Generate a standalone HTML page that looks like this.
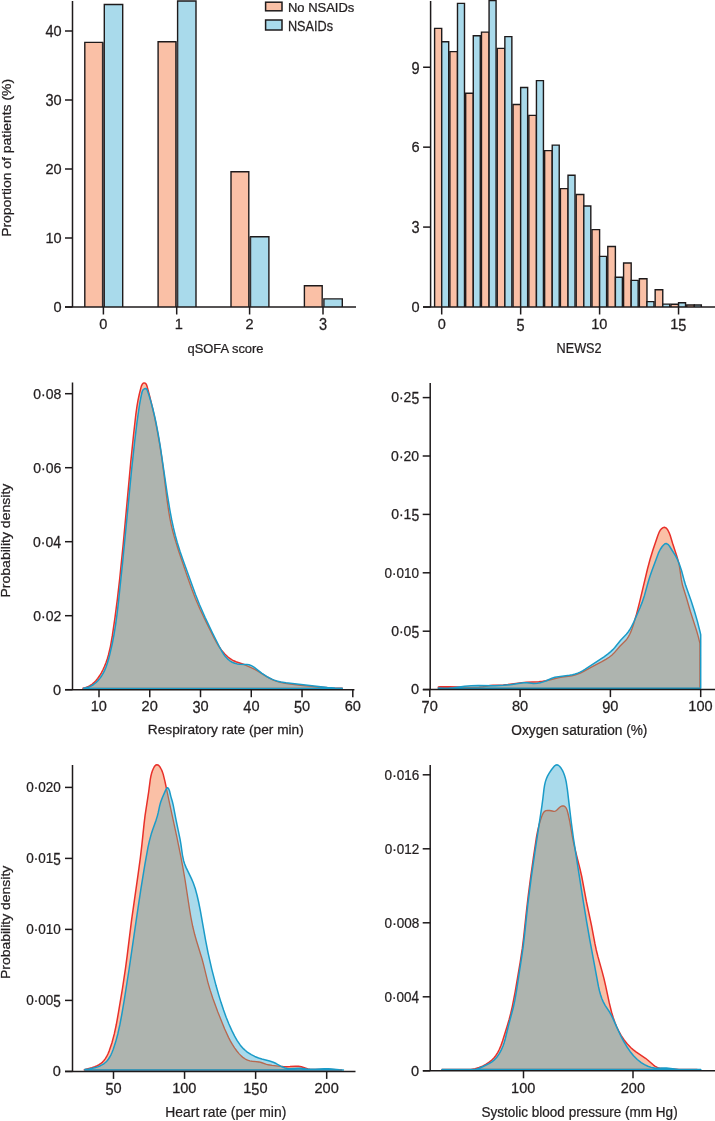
<!DOCTYPE html>
<html><head><meta charset="utf-8"><style>
html,body{margin:0;padding:0;background:#fff;}
svg{display:block;will-change:transform;}
text{font-family:"Liberation Sans",sans-serif;stroke:#231F20;stroke-width:0.25px;}
</style></head><body>
<svg width="715" height="1121" viewBox="0 0 715 1121">
<rect width="715" height="1121" fill="#fff"/>
<path d="M84.8,307V42.4H102.6V307" fill="#FAC0A6" stroke="#1E1A1B" stroke-width="1.4"/>
<path d="M104.3,307V4.5H122.7V307" fill="#A9DAEB" stroke="#1E1A1B" stroke-width="1.4"/>
<rect x="102.6" y="42.4" width="1.7" height="264.6" fill="#4E4849"/>
<path d="M158.1,307V41.7H175.9V307" fill="#FAC0A6" stroke="#1E1A1B" stroke-width="1.4"/>
<path d="M177.6,307V1H196V307" fill="#A9DAEB" stroke="#1E1A1B" stroke-width="1.4"/>
<rect x="175.9" y="41.7" width="1.7" height="265.3" fill="#4E4849"/>
<path d="M231,307V171.7H248.8V307" fill="#FAC0A6" stroke="#1E1A1B" stroke-width="1.4"/>
<path d="M250.5,307V236.7H268.9V307" fill="#A9DAEB" stroke="#1E1A1B" stroke-width="1.4"/>
<rect x="248.8" y="236.7" width="1.7" height="70.3" fill="#4E4849"/>
<path d="M304.4,307V285.7H322.2V307" fill="#FAC0A6" stroke="#1E1A1B" stroke-width="1.4"/>
<path d="M323.9,307V298.9H342.3V307" fill="#A9DAEB" stroke="#1E1A1B" stroke-width="1.4"/>
<rect x="322.2" y="298.9" width="1.7" height="8.1" fill="#4E4849"/>
<line x1="72.5" y1="1" x2="72.5" y2="307" stroke="#1E1A1B" stroke-width="1.5"/>
<line x1="65" y1="307" x2="356" y2="307" stroke="#1E1A1B" stroke-width="1.5"/>
<line x1="65" y1="307" x2="72.5" y2="307" stroke="#1E1A1B" stroke-width="1.5"/>
<line x1="65" y1="238" x2="72.5" y2="238" stroke="#1E1A1B" stroke-width="1.5"/>
<line x1="65" y1="169" x2="72.5" y2="169" stroke="#1E1A1B" stroke-width="1.5"/>
<line x1="65" y1="100" x2="72.5" y2="100" stroke="#1E1A1B" stroke-width="1.5"/>
<line x1="65" y1="31" x2="72.5" y2="31" stroke="#1E1A1B" stroke-width="1.5"/>
<line x1="103.4" y1="307" x2="103.4" y2="314.5" stroke="#1E1A1B" stroke-width="1.5"/>
<line x1="176.7" y1="307" x2="176.7" y2="314.5" stroke="#1E1A1B" stroke-width="1.5"/>
<line x1="249.6" y1="307" x2="249.6" y2="314.5" stroke="#1E1A1B" stroke-width="1.5"/>
<line x1="323" y1="307" x2="323" y2="314.5" stroke="#1E1A1B" stroke-width="1.5"/>
<text transform="translate(53.47,311.88) scale(1.0400,1)" font-size="14.000" fill="#231F20">0</text>
<text transform="translate(45.38,242.88) scale(1.0400,1)" font-size="14.000" fill="#231F20">10</text>
<text transform="translate(45.38,173.88) scale(1.0400,1)" font-size="14.000" fill="#231F20">20</text>
<text transform="translate(45.38,95.12) scale(1.0400,1.1536)" y="9.77" font-size="14.000" fill="#231F20">3</text>
<text transform="translate(53.48,104.88) scale(1.0400,1)" font-size="14.000" fill="#231F20">0</text>
<text transform="translate(45.38,26.12) scale(1.0400,1.1536)" y="9.77" font-size="14.000" fill="#231F20">4</text>
<text transform="translate(53.48,35.88) scale(1.0400,1)" font-size="14.000" fill="#231F20">0</text>
<text transform="translate(99.34,328.76) scale(1.0400,1)" font-size="14.000" fill="#231F20">0</text>
<text transform="translate(174.66,328.62) scale(1.0400,1)" font-size="14.000" fill="#231F20">1</text>
<text transform="translate(245.56,328.76) scale(1.0400,1)" font-size="14.000" fill="#231F20">2</text>
<text transform="translate(319,319) scale(1.0400,1.1536)" y="9.76" font-size="14.000" fill="#231F20">3</text>
<text transform="translate(187.45,353) scale(1.0013,1)" font-size="12.903" fill="#231F20">qSOFA score</text>
<text transform="translate(10.5,236.85) rotate(-90) scale(1.0641,1)" font-size="13.103" fill="#231F20">Proportion of patients (%)</text>
<rect x="265.6" y="2.2" width="16.4" height="8.6" fill="#FAC0A6" stroke="#1E1A1B" stroke-width="1.5"/>
<rect x="265.6" y="20.0" width="16.4" height="10" fill="#A9DAEB" stroke="#1E1A1B" stroke-width="1.5"/>
<text transform="translate(287.93,11.6) scale(1.0554,1)" font-size="12.330" fill="#231F20">No NSAIDs</text>
<text transform="translate(287.95,30.8) scale(0.9215,1)" font-size="13.763" fill="#231F20">NSAIDs</text>
<path d="M434.6,307V28.4H441.7V307" fill="#FAC0A6" stroke="#1E1A1B" stroke-width="1.4"/>
<path d="M441.7,307V41.8H448.7V307" fill="#A9DAEB" stroke="#1E1A1B" stroke-width="1.4"/>
<path d="M449.89,307V51.6H457.49V307" fill="#FAC0A6" stroke="#1E1A1B" stroke-width="1.4"/>
<path d="M457.49,307V3.4H464.49V307" fill="#A9DAEB" stroke="#1E1A1B" stroke-width="1.4"/>
<path d="M465.68,307V93.3H473.28V307" fill="#FAC0A6" stroke="#1E1A1B" stroke-width="1.4"/>
<path d="M473.28,307V35.7H480.28V307" fill="#A9DAEB" stroke="#1E1A1B" stroke-width="1.4"/>
<path d="M481.47,307V32.1H489.07V307" fill="#FAC0A6" stroke="#1E1A1B" stroke-width="1.4"/>
<path d="M489.07,307V0.5H496.07V307" fill="#A9DAEB" stroke="#1E1A1B" stroke-width="1.4"/>
<path d="M497.26,307V48.4H504.86V307" fill="#FAC0A6" stroke="#1E1A1B" stroke-width="1.4"/>
<path d="M504.86,307V36.6H511.86V307" fill="#A9DAEB" stroke="#1E1A1B" stroke-width="1.4"/>
<path d="M513.05,307V104.5H520.65V307" fill="#FAC0A6" stroke="#1E1A1B" stroke-width="1.4"/>
<path d="M520.65,307V87.5H527.65V307" fill="#A9DAEB" stroke="#1E1A1B" stroke-width="1.4"/>
<path d="M528.84,307V115.4H536.44V307" fill="#FAC0A6" stroke="#1E1A1B" stroke-width="1.4"/>
<path d="M536.44,307V80.6H543.44V307" fill="#A9DAEB" stroke="#1E1A1B" stroke-width="1.4"/>
<path d="M544.63,307V150.6H552.23V307" fill="#FAC0A6" stroke="#1E1A1B" stroke-width="1.4"/>
<path d="M552.23,307V145.1H559.23V307" fill="#A9DAEB" stroke="#1E1A1B" stroke-width="1.4"/>
<path d="M560.42,307V188.6H568.02V307" fill="#FAC0A6" stroke="#1E1A1B" stroke-width="1.4"/>
<path d="M568.02,307V175.3H575.02V307" fill="#A9DAEB" stroke="#1E1A1B" stroke-width="1.4"/>
<path d="M576.21,307V194.5H583.81V307" fill="#FAC0A6" stroke="#1E1A1B" stroke-width="1.4"/>
<path d="M583.81,307V206H590.81V307" fill="#A9DAEB" stroke="#1E1A1B" stroke-width="1.4"/>
<path d="M592,307V229.6H599.6V307" fill="#FAC0A6" stroke="#1E1A1B" stroke-width="1.4"/>
<path d="M599.6,307V256.4H606.6V307" fill="#A9DAEB" stroke="#1E1A1B" stroke-width="1.4"/>
<path d="M607.79,307V246.5H615.39V307" fill="#FAC0A6" stroke="#1E1A1B" stroke-width="1.4"/>
<path d="M615.39,307V277.3H622.39V307" fill="#A9DAEB" stroke="#1E1A1B" stroke-width="1.4"/>
<path d="M623.58,307V263H631.18V307" fill="#FAC0A6" stroke="#1E1A1B" stroke-width="1.4"/>
<path d="M631.18,307V280.4H638.18V307" fill="#A9DAEB" stroke="#1E1A1B" stroke-width="1.4"/>
<path d="M639.37,307V278.7H646.97V307" fill="#FAC0A6" stroke="#1E1A1B" stroke-width="1.4"/>
<path d="M646.97,307V301.6H653.97V307" fill="#A9DAEB" stroke="#1E1A1B" stroke-width="1.4"/>
<path d="M655.16,307V289.8H662.76V307" fill="#FAC0A6" stroke="#1E1A1B" stroke-width="1.4"/>
<path d="M662.76,307V304.1H669.76V307" fill="#A9DAEB" stroke="#1E1A1B" stroke-width="1.4"/>
<path d="M670.95,307V304.2H678.55V307" fill="#FAC0A6" stroke="#1E1A1B" stroke-width="1.4"/>
<path d="M678.55,307V302.8H685.55V307" fill="#A9DAEB" stroke="#1E1A1B" stroke-width="1.4"/>
<path d="M686.74,307V305H694.34V307" fill="#FAC0A6" stroke="#1E1A1B" stroke-width="1.4"/>
<path d="M694.34,307V305H701.34V307" fill="#A9DAEB" stroke="#1E1A1B" stroke-width="1.4"/>
<line x1="430.6" y1="1" x2="430.6" y2="307" stroke="#1E1A1B" stroke-width="1.5"/>
<line x1="423" y1="307" x2="715" y2="307" stroke="#1E1A1B" stroke-width="1.5"/>
<line x1="423.1" y1="307" x2="430.6" y2="307" stroke="#1E1A1B" stroke-width="1.5"/>
<line x1="423.1" y1="227.08" x2="430.6" y2="227.08" stroke="#1E1A1B" stroke-width="1.5"/>
<line x1="423.1" y1="147.16" x2="430.6" y2="147.16" stroke="#1E1A1B" stroke-width="1.5"/>
<line x1="423.1" y1="67.24" x2="430.6" y2="67.24" stroke="#1E1A1B" stroke-width="1.5"/>
<line x1="441.7" y1="307" x2="441.7" y2="314.5" stroke="#1E1A1B" stroke-width="1.5"/>
<line x1="520.65" y1="307" x2="520.65" y2="314.5" stroke="#1E1A1B" stroke-width="1.5"/>
<line x1="599.6" y1="307" x2="599.6" y2="314.5" stroke="#1E1A1B" stroke-width="1.5"/>
<line x1="678.55" y1="307" x2="678.55" y2="314.5" stroke="#1E1A1B" stroke-width="1.5"/>
<text transform="translate(411.47,311.88) scale(1.0400,1)" font-size="14.000" fill="#231F20">0</text>
<text transform="translate(411.54,222.2) scale(1.0400,1.1536)" y="9.76" font-size="14.000" fill="#231F20">3</text>
<text transform="translate(411.54,152.04) scale(1.0400,1)" font-size="14.000" fill="#231F20">6</text>
<text transform="translate(411.57,62.36) scale(1.0400,1.1536)" y="9.77" font-size="14.000" fill="#231F20">9</text>
<text transform="translate(437.64,329.26) scale(1.0400,1)" font-size="14.000" fill="#231F20">0</text>
<text transform="translate(516.61,319.5) scale(1.0400,1.1558)" y="9.62" font-size="14.000" fill="#231F20">5</text>
<text transform="translate(591.25,329.26) scale(1.0400,1)" font-size="14.000" fill="#231F20">10</text>
<text transform="translate(670.21,329.12) scale(1.0400,1)" font-size="14.000" fill="#231F20">1</text>
<text transform="translate(678.31,319.5) scale(1.0400,1.1558)" y="9.62" font-size="14.000" fill="#231F20">5</text>
<text transform="translate(556.55,352.6) scale(0.9213,1)" font-size="13.763" fill="#231F20">NEWS2</text>
<polygon fill="#FAC0A6" points="82.96,688.40 82.96,688.27 85.37,687.70 87.79,686.80 89.88,685.71 91.98,684.30 93.91,682.68 95.82,680.73 97.69,678.46 99.39,676.03 101.22,673.03 102.94,669.77 104.54,666.29 105.96,662.75 107.26,658.97 108.44,654.97 110.52,646.11 112.38,635.48 115.04,617.16 117.41,598.83 119.67,579.21 123.15,544.84 130.70,462.60 133.63,434.04 135.88,414.03 136.93,406.63 138.04,400.20 139.36,394.00 140.95,387.61 141.58,385.59 142.23,384.29 143.18,383.29 144.20,382.91 145.11,383.13 145.98,383.85 146.59,384.92 147.14,386.57 149.54,395.70 152.20,406.78 154.58,417.46 156.71,427.87 159.30,442.11 161.68,457.45 163.72,472.65 166.96,499.35 168.71,511.47 169.90,518.30 171.17,524.56 172.59,530.59 174.30,536.92 178.56,550.72 187.11,575.90 191.49,588.34 195.29,598.20 200.04,609.18 206.35,622.50 214.42,638.73 216.73,642.95 218.92,646.55 221.95,650.82 225.00,654.31 228.29,657.29 231.67,659.65 233.76,660.79 235.97,661.80 244.81,664.79 251.65,667.80 257.44,670.86 266.20,676.32 269.36,678.16 272.77,679.85 276.14,681.16 280.32,682.36 285.16,683.34 290.63,684.13 300.50,685.28 311.39,686.39 321.37,687.23 332.11,687.91 342.21,688.28 342.21,688.40"/>
<polygon fill="#A9DAEB" points="83.56,688.40 83.56,688.15 86.31,687.75 89.08,686.89 91.36,685.83 93.51,684.51 95.78,682.73 97.86,680.72 99.85,678.37 101.72,675.72 103.26,673.10 104.61,670.37 105.94,667.23 107.15,663.83 108.37,659.84 109.68,654.93 112.23,643.81 113.98,634.58 115.56,624.79 117.03,614.07 118.55,601.17 122.57,562.73 131.65,469.30 134.52,442.72 137.01,422.10 139.53,404.68 140.73,398.07 141.97,392.28 142.51,390.73 143.22,389.67 144.44,388.77 145.56,388.48 146.43,388.82 147.23,389.94 149.09,395.55 151.17,402.60 152.89,408.97 154.49,415.57 156.05,422.77 158.16,433.78 160.31,446.65 167.23,493.79 169.92,510.36 171.59,519.23 173.36,527.52 175.24,535.24 177.25,542.55 180.06,551.52 183.54,561.61 195.50,594.48 199.46,604.57 205.05,617.31 212.64,633.28 219.27,646.50 221.68,651.00 223.47,653.96 225.39,656.59 227.48,658.84 229.84,660.78 232.27,662.26 234.73,663.29 237.16,663.89 239.71,664.16 246.93,664.45 249.04,664.81 250.86,665.42 252.28,666.12 253.94,667.17 261.96,673.28 266.96,676.60 269.46,678.00 271.87,679.16 274.18,680.09 276.72,680.91 280.89,681.93 285.89,682.76 314.13,686.08 327.19,687.39 334.93,687.92 342.21,688.17 342.21,688.40"/>
<polygon fill="#AEB4AF" points="83.56,688.40 83.56,688.16 86.36,687.74 89.16,686.86 91.56,685.73 93.56,684.48 95.96,682.58 97.95,680.61 99.95,678.24 101.95,675.35 103.55,672.55 104.75,670.07 105.95,667.19 107.15,663.82 108.35,659.90 109.95,653.85 112.35,643.24 113.94,634.81 115.54,624.91 117.14,613.15 118.74,599.47 122.74,561.03 131.53,470.45 134.73,440.86 137.13,421.17 139.53,404.68 140.73,398.06 141.93,392.46 142.33,391.15 143.13,389.77 144.33,388.82 145.53,388.48 146.33,388.75 146.73,389.12 147.52,390.63 151.12,402.43 153.92,414.42 156.72,427.90 159.12,441.03 161.52,456.33 163.52,471.06 167.11,500.53 168.71,511.51 169.91,518.38 171.51,526.08 173.11,532.58 175.11,539.72 179.11,552.38 188.70,580.52 192.70,591.58 196.70,601.59 199.49,607.99 203.09,615.74 213.49,636.91 217.08,643.57 220.68,649.17 223.48,653.98 225.48,656.70 227.48,658.83 229.88,660.81 232.27,662.26 234.67,663.27 237.07,663.87 239.47,664.15 243.47,664.30 247.07,665.71 251.86,667.90 256.26,670.19 266.65,676.60 270.25,678.63 273.85,680.31 277.85,681.70 282.24,682.79 287.04,683.64 304.63,685.72 323.02,687.35 333.01,687.95 342.21,688.28 342.21,688.40"/>
<clipPath id="cb1"><polygon points="83.56,688.40 83.56,688.15 86.31,687.75 89.08,686.89 91.36,685.83 93.51,684.51 95.78,682.73 97.86,680.72 99.85,678.37 101.72,675.72 103.26,673.10 104.61,670.37 105.94,667.23 107.15,663.83 108.37,659.84 109.68,654.93 112.23,643.81 113.98,634.58 115.56,624.79 117.03,614.07 118.55,601.17 122.57,562.73 131.65,469.30 134.52,442.72 137.01,422.10 139.53,404.68 140.73,398.07 141.97,392.28 142.51,390.73 143.22,389.67 144.44,388.77 145.56,388.48 146.43,388.82 147.23,389.94 149.09,395.55 151.17,402.60 152.89,408.97 154.49,415.57 156.05,422.77 158.16,433.78 160.31,446.65 167.23,493.79 169.92,510.36 171.59,519.23 173.36,527.52 175.24,535.24 177.25,542.55 180.06,551.52 183.54,561.61 195.50,594.48 199.46,604.57 205.05,617.31 212.64,633.28 219.27,646.50 221.68,651.00 223.47,653.96 225.39,656.59 227.48,658.84 229.84,660.78 232.27,662.26 234.73,663.29 237.16,663.89 239.71,664.16 246.93,664.45 249.04,664.81 250.86,665.42 252.28,666.12 253.94,667.17 261.96,673.28 266.96,676.60 269.46,678.00 271.87,679.16 274.18,680.09 276.72,680.91 280.89,681.93 285.89,682.76 314.13,686.08 327.19,687.39 334.93,687.92 342.21,688.17 342.21,688.40"/></clipPath>
<mask id="mcb1" maskUnits="userSpaceOnUse" x="0" y="0" width="715" height="1121"><rect width="715" height="1121" fill="#fff"/><polygon fill="#000" points="83.56,688.40 83.56,688.15 86.31,687.75 89.08,686.89 91.36,685.83 93.51,684.51 95.78,682.73 97.86,680.72 99.85,678.37 101.72,675.72 103.26,673.10 104.61,670.37 105.94,667.23 107.15,663.83 108.37,659.84 109.68,654.93 112.23,643.81 113.98,634.58 115.56,624.79 117.03,614.07 118.55,601.17 122.57,562.73 131.65,469.30 134.52,442.72 137.01,422.10 139.53,404.68 140.73,398.07 141.97,392.28 142.51,390.73 143.22,389.67 144.44,388.77 145.56,388.48 146.43,388.82 147.23,389.94 149.09,395.55 151.17,402.60 152.89,408.97 154.49,415.57 156.05,422.77 158.16,433.78 160.31,446.65 167.23,493.79 169.92,510.36 171.59,519.23 173.36,527.52 175.24,535.24 177.25,542.55 180.06,551.52 183.54,561.61 195.50,594.48 199.46,604.57 205.05,617.31 212.64,633.28 219.27,646.50 221.68,651.00 223.47,653.96 225.39,656.59 227.48,658.84 229.84,660.78 232.27,662.26 234.73,663.29 237.16,663.89 239.71,664.16 246.93,664.45 249.04,664.81 250.86,665.42 252.28,666.12 253.94,667.17 261.96,673.28 266.96,676.60 269.46,678.00 271.87,679.16 274.18,680.09 276.72,680.91 280.89,681.93 285.89,682.76 314.13,686.08 327.19,687.39 334.93,687.92 342.21,688.17 342.21,688.40"/></mask>
<polygon fill="none" stroke="#E8302A" stroke-width="1.5" stroke-linejoin="round" mask="url(#mcb1)" points="82.96,688.40 82.96,688.27 85.37,687.70 87.79,686.80 89.88,685.71 91.98,684.30 93.91,682.68 95.82,680.73 97.69,678.46 99.39,676.03 101.22,673.03 102.94,669.77 104.54,666.29 105.96,662.75 107.26,658.97 108.44,654.97 110.52,646.11 112.38,635.48 115.04,617.16 117.41,598.83 119.67,579.21 123.15,544.84 130.70,462.60 133.63,434.04 135.88,414.03 136.93,406.63 138.04,400.20 139.36,394.00 140.95,387.61 141.58,385.59 142.23,384.29 143.18,383.29 144.20,382.91 145.11,383.13 145.98,383.85 146.59,384.92 147.14,386.57 149.54,395.70 152.20,406.78 154.58,417.46 156.71,427.87 159.30,442.11 161.68,457.45 163.72,472.65 166.96,499.35 168.71,511.47 169.90,518.30 171.17,524.56 172.59,530.59 174.30,536.92 178.56,550.72 187.11,575.90 191.49,588.34 195.29,598.20 200.04,609.18 206.35,622.50 214.42,638.73 216.73,642.95 218.92,646.55 221.95,650.82 225.00,654.31 228.29,657.29 231.67,659.65 233.76,660.79 235.97,661.80 244.81,664.79 251.65,667.80 257.44,670.86 266.20,676.32 269.36,678.16 272.77,679.85 276.14,681.16 280.32,682.36 285.16,683.34 290.63,684.13 300.50,685.28 311.39,686.39 321.37,687.23 332.11,687.91 342.21,688.28 342.21,688.40"/>
<polygon fill="none" stroke="#B8684F" stroke-width="1.35" stroke-linejoin="round" clip-path="url(#cb1)" points="82.96,688.40 82.96,688.27 85.37,687.70 87.79,686.80 89.88,685.71 91.98,684.30 93.91,682.68 95.82,680.73 97.69,678.46 99.39,676.03 101.22,673.03 102.94,669.77 104.54,666.29 105.96,662.75 107.26,658.97 108.44,654.97 110.52,646.11 112.38,635.48 115.04,617.16 117.41,598.83 119.67,579.21 123.15,544.84 130.70,462.60 133.63,434.04 135.88,414.03 136.93,406.63 138.04,400.20 139.36,394.00 140.95,387.61 141.58,385.59 142.23,384.29 143.18,383.29 144.20,382.91 145.11,383.13 145.98,383.85 146.59,384.92 147.14,386.57 149.54,395.70 152.20,406.78 154.58,417.46 156.71,427.87 159.30,442.11 161.68,457.45 163.72,472.65 166.96,499.35 168.71,511.47 169.90,518.30 171.17,524.56 172.59,530.59 174.30,536.92 178.56,550.72 187.11,575.90 191.49,588.34 195.29,598.20 200.04,609.18 206.35,622.50 214.42,638.73 216.73,642.95 218.92,646.55 221.95,650.82 225.00,654.31 228.29,657.29 231.67,659.65 233.76,660.79 235.97,661.80 244.81,664.79 251.65,667.80 257.44,670.86 266.20,676.32 269.36,678.16 272.77,679.85 276.14,681.16 280.32,682.36 285.16,683.34 290.63,684.13 300.50,685.28 311.39,686.39 321.37,687.23 332.11,687.91 342.21,688.28 342.21,688.40"/>
<polygon fill="none" stroke="#1A9BC8" stroke-width="1.5" stroke-linejoin="round" points="83.56,688.40 83.56,688.15 86.31,687.75 89.08,686.89 91.36,685.83 93.51,684.51 95.78,682.73 97.86,680.72 99.85,678.37 101.72,675.72 103.26,673.10 104.61,670.37 105.94,667.23 107.15,663.83 108.37,659.84 109.68,654.93 112.23,643.81 113.98,634.58 115.56,624.79 117.03,614.07 118.55,601.17 122.57,562.73 131.65,469.30 134.52,442.72 137.01,422.10 139.53,404.68 140.73,398.07 141.97,392.28 142.51,390.73 143.22,389.67 144.44,388.77 145.56,388.48 146.43,388.82 147.23,389.94 149.09,395.55 151.17,402.60 152.89,408.97 154.49,415.57 156.05,422.77 158.16,433.78 160.31,446.65 167.23,493.79 169.92,510.36 171.59,519.23 173.36,527.52 175.24,535.24 177.25,542.55 180.06,551.52 183.54,561.61 195.50,594.48 199.46,604.57 205.05,617.31 212.64,633.28 219.27,646.50 221.68,651.00 223.47,653.96 225.39,656.59 227.48,658.84 229.84,660.78 232.27,662.26 234.73,663.29 237.16,663.89 239.71,664.16 246.93,664.45 249.04,664.81 250.86,665.42 252.28,666.12 253.94,667.17 261.96,673.28 266.96,676.60 269.46,678.00 271.87,679.16 274.18,680.09 276.72,680.91 280.89,681.93 285.89,682.76 314.13,686.08 327.19,687.39 334.93,687.92 342.21,688.17 342.21,688.40"/>
<line x1="72.5" y1="382.5" x2="72.5" y2="689.7" stroke="#1E1A1B" stroke-width="1.5"/>
<line x1="65" y1="689.7" x2="354.4" y2="689.7" stroke="#1E1A1B" stroke-width="1.5"/>
<line x1="65" y1="689.7" x2="72.5" y2="689.7" stroke="#1E1A1B" stroke-width="1.5"/>
<line x1="65" y1="615.7" x2="72.5" y2="615.7" stroke="#1E1A1B" stroke-width="1.5"/>
<line x1="65" y1="541.7" x2="72.5" y2="541.7" stroke="#1E1A1B" stroke-width="1.5"/>
<line x1="65" y1="467.7" x2="72.5" y2="467.7" stroke="#1E1A1B" stroke-width="1.5"/>
<line x1="65" y1="393.7" x2="72.5" y2="393.7" stroke="#1E1A1B" stroke-width="1.5"/>
<line x1="99" y1="689.7" x2="99" y2="697.2" stroke="#1E1A1B" stroke-width="1.5"/>
<line x1="149.76" y1="689.7" x2="149.76" y2="697.2" stroke="#1E1A1B" stroke-width="1.5"/>
<line x1="200.52" y1="689.7" x2="200.52" y2="697.2" stroke="#1E1A1B" stroke-width="1.5"/>
<line x1="251.28" y1="689.7" x2="251.28" y2="697.2" stroke="#1E1A1B" stroke-width="1.5"/>
<line x1="302.04" y1="689.7" x2="302.04" y2="697.2" stroke="#1E1A1B" stroke-width="1.5"/>
<line x1="352.8" y1="689.7" x2="352.8" y2="697.2" stroke="#1E1A1B" stroke-width="1.5"/>
<text transform="translate(53.07,694.58) scale(1.0400,1)" font-size="14.000" fill="#231F20">0</text>
<text transform="translate(33.3,620.58) scale(1.0000,1)" font-size="14.000" fill="#231F20">0·02</text>
<text transform="translate(32.98,546.58) scale(1.0000,1)" font-size="14.000" fill="#231F20">0</text>
<text transform="translate(40.77,546.58) scale(1.0000,1)" font-size="14.000" fill="#231F20">·</text>
<text transform="translate(45.43,546.58) scale(1.0000,1)" font-size="14.000" fill="#231F20">0</text>
<text transform="translate(53.22,536.82) scale(1.0000,1.1536)" y="9.76" font-size="14.000" fill="#231F20">4</text>
<text transform="translate(33.2,472.58) scale(1.0000,1)" font-size="14.000" fill="#231F20">0·06</text>
<text transform="translate(33.2,398.58) scale(1.0000,1)" font-size="14.000" fill="#231F20">0·08</text>
<text transform="translate(90.65,711.37) scale(1.0400,1)" font-size="14.000" fill="#231F20">10</text>
<text transform="translate(141.59,711.37) scale(1.0400,1)" font-size="14.000" fill="#231F20">20</text>
<text transform="translate(192.44,701.6) scale(1.0400,1.1536)" y="9.76" font-size="14.000" fill="#231F20">3</text>
<text transform="translate(200.54,711.37) scale(1.0400,1)" font-size="14.000" fill="#231F20">0</text>
<text transform="translate(243.31,701.6) scale(1.0400,1.1536)" y="9.76" font-size="14.000" fill="#231F20">4</text>
<text transform="translate(251.41,711.37) scale(1.0400,1)" font-size="14.000" fill="#231F20">0</text>
<text transform="translate(293.94,701.6) scale(1.0400,1.1536)" y="9.76" font-size="14.000" fill="#231F20">5</text>
<text transform="translate(302.04,711.37) scale(1.0400,1)" font-size="14.000" fill="#231F20">0</text>
<text transform="translate(344.63,711.37) scale(1.0400,1)" font-size="14.000" fill="#231F20">60</text>
<text transform="translate(147.87,734.4) scale(1.0560,1)" font-size="12.966" fill="#231F20">Respiratory rate (per min)</text>
<text transform="translate(10.4,597.56) rotate(-90) scale(1.0834,1)" font-size="12.966" fill="#231F20">Probability density</text>
<polygon fill="#FAC0A6" points="438.40,688.30 438.40,686.90 439.96,686.85 449.39,686.81 470.93,687.34 478.81,687.15 482.78,686.74 490.21,685.54 493.32,685.35 500.12,685.23 503.44,685.01 507.84,684.53 521.80,682.65 526.34,682.30 538.80,681.64 542.65,681.26 546.03,680.74 549.37,680.02 559.05,677.57 562.25,677.02 571.82,675.78 574.72,675.12 577.52,674.21 580.25,673.08 583.21,671.64 592.78,666.35 601.84,661.63 605.80,659.37 609.12,657.20 611.72,655.18 613.98,653.10 620.10,645.98 625.89,640.24 627.18,638.61 628.44,636.66 629.61,634.50 630.69,632.14 632.02,628.75 633.55,624.27 636.54,614.11 639.54,602.33 647.48,568.96 650.15,559.06 652.99,549.74 657.67,535.91 659.33,531.83 660.44,529.97 661.68,528.58 663.08,527.62 664.34,527.33 665.58,527.64 666.78,528.62 667.93,530.28 669.20,532.85 670.31,535.82 672.57,543.31 676.98,556.71 678.38,561.63 679.36,565.95 681.41,579.90 682.60,585.53 686.42,597.72 690.40,611.48 696.75,631.25 698.35,636.90 699.61,642.08 699.92,643.49 699.92,688.30"/>
<polygon fill="#A9DAEB" points="438.40,688.30 438.40,687.89 443.58,688.28 449.31,688.08 453.71,687.64 464.68,686.23 471.20,685.74 478.25,685.58 494.70,685.63 503.15,685.33 510.15,684.68 519.91,683.19 523.71,682.81 527.02,682.84 533.60,683.51 537.31,683.34 540.18,682.80 543.29,681.89 546.24,680.77 551.92,678.31 554.95,677.33 558.47,676.67 569.54,675.27 572.52,674.71 575.24,674.01 577.69,673.18 580.07,672.15 582.56,670.86 585.32,669.19 604.01,656.81 607.71,654.12 610.76,651.60 612.81,649.66 614.59,647.75 620.40,640.43 626.36,634.30 627.99,632.27 629.53,630.04 631.66,626.40 633.78,622.04 639.99,607.68 642.12,602.39 644.45,595.42 648.27,581.78 649.96,576.31 651.97,570.56 658.40,553.20 660.20,549.48 662.17,546.53 663.33,545.20 664.40,544.21 665.26,543.71 666.01,543.58 666.97,543.78 667.90,544.32 668.72,545.10 669.57,546.23 675.74,556.14 677.53,559.70 679.23,563.71 681.52,570.47 684.43,581.33 685.62,585.36 691.19,601.07 694.39,610.94 697.27,620.90 699.92,631.26 700.70,634.60 700.70,688.30"/>
<polygon fill="#AEB4AF" points="438.40,688.30 438.40,687.89 443.20,688.27 448.40,688.15 452.39,687.79 458.39,687.04 471.19,687.34 478.39,687.18 482.78,686.74 489.18,685.66 499.18,685.52 507.18,685.00 512.38,684.38 520.37,683.12 523.57,682.82 526.77,682.82 533.97,683.52 535.97,683.47 538.37,683.18 541.97,682.32 546.76,680.60 557.96,677.81 561.96,677.06 571.56,675.82 574.36,675.22 577.16,674.34 580.35,673.04 583.55,671.47 592.75,666.37 602.35,661.35 606.75,658.79 610.74,655.98 612.74,654.28 614.34,652.72 619.94,646.16 625.94,640.19 627.94,637.48 629.54,634.64 630.74,632.03 631.94,628.96 635.54,618.04 640.74,605.90 642.73,600.71 644.73,594.47 648.33,581.57 649.93,576.38 657.93,554.37 659.93,549.98 661.93,546.83 663.13,545.40 664.33,544.26 665.13,543.76 665.93,543.58 666.73,543.69 667.93,544.34 668.73,545.10 669.53,546.16 675.52,555.76 677.12,558.83 678.32,561.48 679.52,566.84 681.52,580.56 682.72,585.99 686.32,597.40 690.32,611.21 696.72,631.15 699.12,639.92 699.92,643.49 699.92,688.30"/>
<clipPath id="cb2"><polygon points="438.40,688.30 438.40,687.89 443.58,688.28 449.31,688.08 453.71,687.64 464.68,686.23 471.20,685.74 478.25,685.58 494.70,685.63 503.15,685.33 510.15,684.68 519.91,683.19 523.71,682.81 527.02,682.84 533.60,683.51 537.31,683.34 540.18,682.80 543.29,681.89 546.24,680.77 551.92,678.31 554.95,677.33 558.47,676.67 569.54,675.27 572.52,674.71 575.24,674.01 577.69,673.18 580.07,672.15 582.56,670.86 585.32,669.19 604.01,656.81 607.71,654.12 610.76,651.60 612.81,649.66 614.59,647.75 620.40,640.43 626.36,634.30 627.99,632.27 629.53,630.04 631.66,626.40 633.78,622.04 639.99,607.68 642.12,602.39 644.45,595.42 648.27,581.78 649.96,576.31 651.97,570.56 658.40,553.20 660.20,549.48 662.17,546.53 663.33,545.20 664.40,544.21 665.26,543.71 666.01,543.58 666.97,543.78 667.90,544.32 668.72,545.10 669.57,546.23 675.74,556.14 677.53,559.70 679.23,563.71 681.52,570.47 684.43,581.33 685.62,585.36 691.19,601.07 694.39,610.94 697.27,620.90 699.92,631.26 700.70,634.60 700.70,688.30"/></clipPath>
<mask id="mcb2" maskUnits="userSpaceOnUse" x="0" y="0" width="715" height="1121"><rect width="715" height="1121" fill="#fff"/><polygon fill="#000" points="438.40,688.30 438.40,687.89 443.58,688.28 449.31,688.08 453.71,687.64 464.68,686.23 471.20,685.74 478.25,685.58 494.70,685.63 503.15,685.33 510.15,684.68 519.91,683.19 523.71,682.81 527.02,682.84 533.60,683.51 537.31,683.34 540.18,682.80 543.29,681.89 546.24,680.77 551.92,678.31 554.95,677.33 558.47,676.67 569.54,675.27 572.52,674.71 575.24,674.01 577.69,673.18 580.07,672.15 582.56,670.86 585.32,669.19 604.01,656.81 607.71,654.12 610.76,651.60 612.81,649.66 614.59,647.75 620.40,640.43 626.36,634.30 627.99,632.27 629.53,630.04 631.66,626.40 633.78,622.04 639.99,607.68 642.12,602.39 644.45,595.42 648.27,581.78 649.96,576.31 651.97,570.56 658.40,553.20 660.20,549.48 662.17,546.53 663.33,545.20 664.40,544.21 665.26,543.71 666.01,543.58 666.97,543.78 667.90,544.32 668.72,545.10 669.57,546.23 675.74,556.14 677.53,559.70 679.23,563.71 681.52,570.47 684.43,581.33 685.62,585.36 691.19,601.07 694.39,610.94 697.27,620.90 699.92,631.26 700.70,634.60 700.70,688.30"/></mask>
<polygon fill="none" stroke="#E8302A" stroke-width="1.5" stroke-linejoin="round" mask="url(#mcb2)" points="438.40,688.30 438.40,686.90 439.96,686.85 449.39,686.81 470.93,687.34 478.81,687.15 482.78,686.74 490.21,685.54 493.32,685.35 500.12,685.23 503.44,685.01 507.84,684.53 521.80,682.65 526.34,682.30 538.80,681.64 542.65,681.26 546.03,680.74 549.37,680.02 559.05,677.57 562.25,677.02 571.82,675.78 574.72,675.12 577.52,674.21 580.25,673.08 583.21,671.64 592.78,666.35 601.84,661.63 605.80,659.37 609.12,657.20 611.72,655.18 613.98,653.10 620.10,645.98 625.89,640.24 627.18,638.61 628.44,636.66 629.61,634.50 630.69,632.14 632.02,628.75 633.55,624.27 636.54,614.11 639.54,602.33 647.48,568.96 650.15,559.06 652.99,549.74 657.67,535.91 659.33,531.83 660.44,529.97 661.68,528.58 663.08,527.62 664.34,527.33 665.58,527.64 666.78,528.62 667.93,530.28 669.20,532.85 670.31,535.82 672.57,543.31 676.98,556.71 678.38,561.63 679.36,565.95 681.41,579.90 682.60,585.53 686.42,597.72 690.40,611.48 696.75,631.25 698.35,636.90 699.61,642.08 699.92,643.49 699.92,688.30"/>
<polygon fill="none" stroke="#B8684F" stroke-width="1.35" stroke-linejoin="round" clip-path="url(#cb2)" points="438.40,688.30 438.40,686.90 439.96,686.85 449.39,686.81 470.93,687.34 478.81,687.15 482.78,686.74 490.21,685.54 493.32,685.35 500.12,685.23 503.44,685.01 507.84,684.53 521.80,682.65 526.34,682.30 538.80,681.64 542.65,681.26 546.03,680.74 549.37,680.02 559.05,677.57 562.25,677.02 571.82,675.78 574.72,675.12 577.52,674.21 580.25,673.08 583.21,671.64 592.78,666.35 601.84,661.63 605.80,659.37 609.12,657.20 611.72,655.18 613.98,653.10 620.10,645.98 625.89,640.24 627.18,638.61 628.44,636.66 629.61,634.50 630.69,632.14 632.02,628.75 633.55,624.27 636.54,614.11 639.54,602.33 647.48,568.96 650.15,559.06 652.99,549.74 657.67,535.91 659.33,531.83 660.44,529.97 661.68,528.58 663.08,527.62 664.34,527.33 665.58,527.64 666.78,528.62 667.93,530.28 669.20,532.85 670.31,535.82 672.57,543.31 676.98,556.71 678.38,561.63 679.36,565.95 681.41,579.90 682.60,585.53 686.42,597.72 690.40,611.48 696.75,631.25 698.35,636.90 699.61,642.08 699.92,643.49 699.92,688.30"/>
<polygon fill="none" stroke="#1A9BC8" stroke-width="1.5" stroke-linejoin="round" points="438.40,688.30 438.40,687.89 443.58,688.28 449.31,688.08 453.71,687.64 464.68,686.23 471.20,685.74 478.25,685.58 494.70,685.63 503.15,685.33 510.15,684.68 519.91,683.19 523.71,682.81 527.02,682.84 533.60,683.51 537.31,683.34 540.18,682.80 543.29,681.89 546.24,680.77 551.92,678.31 554.95,677.33 558.47,676.67 569.54,675.27 572.52,674.71 575.24,674.01 577.69,673.18 580.07,672.15 582.56,670.86 585.32,669.19 604.01,656.81 607.71,654.12 610.76,651.60 612.81,649.66 614.59,647.75 620.40,640.43 626.36,634.30 627.99,632.27 629.53,630.04 631.66,626.40 633.78,622.04 639.99,607.68 642.12,602.39 644.45,595.42 648.27,581.78 649.96,576.31 651.97,570.56 658.40,553.20 660.20,549.48 662.17,546.53 663.33,545.20 664.40,544.21 665.26,543.71 666.01,543.58 666.97,543.78 667.90,544.32 668.72,545.10 669.57,546.23 675.74,556.14 677.53,559.70 679.23,563.71 681.52,570.47 684.43,581.33 685.62,585.36 691.19,601.07 694.39,610.94 697.27,620.90 699.92,631.26 700.70,634.60 700.70,688.30"/>
<line x1="430.2" y1="383" x2="430.2" y2="689.6" stroke="#1E1A1B" stroke-width="1.5"/>
<line x1="423" y1="689.6" x2="715" y2="689.6" stroke="#1E1A1B" stroke-width="1.5"/>
<line x1="422.7" y1="689.6" x2="430.2" y2="689.6" stroke="#1E1A1B" stroke-width="1.5"/>
<line x1="422.7" y1="631.2" x2="430.2" y2="631.2" stroke="#1E1A1B" stroke-width="1.5"/>
<line x1="422.7" y1="572.8" x2="430.2" y2="572.8" stroke="#1E1A1B" stroke-width="1.5"/>
<line x1="422.7" y1="514.4" x2="430.2" y2="514.4" stroke="#1E1A1B" stroke-width="1.5"/>
<line x1="422.7" y1="456" x2="430.2" y2="456" stroke="#1E1A1B" stroke-width="1.5"/>
<line x1="422.7" y1="397.6" x2="430.2" y2="397.6" stroke="#1E1A1B" stroke-width="1.5"/>
<line x1="429.8" y1="689.6" x2="429.8" y2="697.1" stroke="#1E1A1B" stroke-width="1.5"/>
<line x1="520.1" y1="689.6" x2="520.1" y2="697.1" stroke="#1E1A1B" stroke-width="1.5"/>
<line x1="610.4" y1="689.6" x2="610.4" y2="697.1" stroke="#1E1A1B" stroke-width="1.5"/>
<line x1="700.7" y1="689.6" x2="700.7" y2="697.1" stroke="#1E1A1B" stroke-width="1.5"/>
<text transform="translate(411.07,694.48) scale(1.0400,1)" font-size="14.000" fill="#231F20">0</text>
<text transform="translate(391.16,636.08) scale(1.0000,1)" font-size="14.000" fill="#231F20">0</text>
<text transform="translate(398.95,636.08) scale(1.0000,1)" font-size="14.000" fill="#231F20">·</text>
<text transform="translate(403.61,636.08) scale(1.0000,1)" font-size="14.000" fill="#231F20">0</text>
<text transform="translate(411.39,626.32) scale(1.0000,1.1536)" y="9.76" font-size="14.000" fill="#231F20">5</text>
<text transform="translate(384.55,577.68) scale(0.9650,1)" font-size="14.000" fill="#231F20">0·010</text>
<text transform="translate(391.16,519.28) scale(1.0000,1)" font-size="14.000" fill="#231F20">0</text>
<text transform="translate(398.95,519.28) scale(1.0000,1)" font-size="14.000" fill="#231F20">·</text>
<text transform="translate(403.61,519.28) scale(1.0000,1)" font-size="14.000" fill="#231F20">1</text>
<text transform="translate(411.39,509.52) scale(1.0000,1.1536)" y="9.76" font-size="14.000" fill="#231F20">5</text>
<text transform="translate(391.12,460.88) scale(1.0000,1)" font-size="14.000" fill="#231F20">0·20</text>
<text transform="translate(391.16,402.48) scale(1.0000,1)" font-size="14.000" fill="#231F20">0</text>
<text transform="translate(398.95,402.48) scale(1.0000,1)" font-size="14.000" fill="#231F20">·</text>
<text transform="translate(403.61,402.48) scale(1.0000,1)" font-size="14.000" fill="#231F20">2</text>
<text transform="translate(411.39,392.72) scale(1.0000,1.1536)" y="9.76" font-size="14.000" fill="#231F20">5</text>
<text transform="translate(421.61,701.6) scale(1.0400,1.1536)" y="9.76" font-size="14.000" fill="#231F20">7</text>
<text transform="translate(429.71,711.37) scale(1.0400,1)" font-size="14.000" fill="#231F20">0</text>
<text transform="translate(511.98,711.37) scale(1.0400,1)" font-size="14.000" fill="#231F20">80</text>
<text transform="translate(602.25,701.6) scale(1.0400,1.1536)" y="9.76" font-size="14.000" fill="#231F20">9</text>
<text transform="translate(610.34,711.37) scale(1.0400,1)" font-size="14.000" fill="#231F20">0</text>
<text transform="translate(688.29,711.37) scale(1.0400,1)" font-size="14.000" fill="#231F20">100</text>
<text transform="translate(511.35,735.3) scale(0.9454,1)" font-size="14.483" fill="#231F20">Oxygen saturation (%)</text>
<polygon fill="#FAC0A6" points="84.31,1070.10 84.31,1069.76 91.90,1067.81 94.77,1066.81 97.17,1065.76 99.12,1064.71 100.91,1063.48 102.53,1062.07 103.97,1060.50 105.36,1058.64 106.67,1056.47 107.91,1054.01 109.14,1051.09 111.89,1042.97 114.31,1033.90 116.27,1024.77 118.44,1012.71 122.49,988.27 125.49,968.44 127.19,955.69 131.57,920.19 138.13,874.19 140.32,857.99 141.91,844.68 144.04,824.05 145.08,815.30 148.64,792.05 150.33,779.18 150.86,776.29 151.52,773.58 152.33,771.06 153.27,768.73 154.15,767.00 155.07,765.70 155.98,764.93 156.86,764.67 157.93,764.94 159.12,765.89 160.18,767.31 161.38,769.49 162.32,771.65 163.17,774.12 164.94,781.32 169.79,804.48 176.98,837.69 180.75,856.21 183.05,868.48 185.09,880.24 189.33,907.85 190.78,916.54 192.69,926.26 194.77,934.81 196.54,940.98 201.99,958.74 203.50,964.42 207.96,982.59 210.17,990.16 212.80,998.19 217.85,1012.01 224.58,1028.70 228.52,1037.36 230.45,1041.09 232.37,1044.43 234.56,1047.85 236.85,1051.02 238.99,1053.62 241.18,1055.88 243.26,1057.65 245.35,1059.05 247.59,1060.15 249.81,1060.86 252.16,1061.26 259.08,1061.96 261.22,1062.50 265.84,1064.14 268.31,1064.78 272.11,1065.42 278.53,1066.16 283.10,1066.54 286.94,1066.66 290.05,1066.58 295.55,1066.19 298.45,1066.25 301.29,1066.80 308.01,1068.94 309.81,1069.28 311.81,1069.49 330.02,1069.51 341.40,1069.90 341.40,1070.10"/>
<polygon fill="#A9DAEB" points="84.83,1070.10 84.83,1069.59 88.92,1068.98 92.35,1068.31 95.50,1067.50 98.25,1066.59 100.39,1065.70 102.41,1064.64 104.13,1063.52 105.68,1062.23 107.17,1060.68 108.50,1058.99 109.77,1057.02 110.96,1054.78 112.08,1052.28 113.26,1049.21 115.82,1041.33 117.86,1033.69 119.79,1025.00 121.68,1015.07 124.28,999.88 129.16,968.75 137.48,911.61 140.87,889.07 144.80,864.89 147.97,847.36 149.54,840.35 151.24,834.08 152.66,829.68 156.06,820.14 157.40,815.86 158.21,812.68 159.70,805.60 160.70,802.07 162.40,797.54 165.75,789.91 166.70,788.31 167.09,787.94 167.51,787.78 168.01,788.00 168.54,788.67 169.47,790.72 170.83,796.37 172.34,801.55 173.22,805.15 176.08,820.22 180.05,839.11 180.94,844.35 182.45,855.12 183.70,860.98 184.68,864.06 186.01,867.38 191.33,878.36 193.22,882.77 195.23,888.57 197.12,895.50 198.71,902.51 200.34,910.57 205.61,940.29 208.12,953.06 211.75,969.08 215.97,985.32 218.55,994.40 221.07,1002.60 223.56,1010.08 226.15,1017.16 228.90,1023.98 231.76,1030.38 234.64,1036.20 237.18,1040.65 240.31,1045.13 243.63,1048.88 245.41,1050.54 247.29,1052.06 251.29,1054.68 254.77,1056.45 258.57,1057.95 261.82,1058.95 269.59,1061.01 273.32,1062.27 276.14,1063.55 282.05,1066.79 285.17,1068.03 287.30,1068.46 289.83,1068.64 297.86,1068.30 300.63,1068.32 307.87,1069.17 311.08,1069.34 315.17,1069.25 324.27,1068.68 328.38,1068.65 331.45,1068.88 339.11,1069.83 341.33,1069.95 343.40,1069.89 343.40,1070.10"/>
<polygon fill="#AEB4AF" points="84.83,1070.10 84.83,1069.64 92.83,1068.20 95.62,1067.47 98.42,1066.53 100.42,1065.69 102.42,1064.64 104.02,1063.60 105.61,1062.29 107.21,1060.64 108.81,1058.54 110.01,1056.59 111.21,1054.26 112.41,1051.48 113.61,1048.25 116.00,1040.70 118.00,1033.10 120.00,1023.97 122.00,1013.25 124.40,999.17 129.19,968.55 140.78,889.67 144.78,865.01 147.98,847.35 149.57,840.20 151.17,834.30 152.77,829.37 155.97,820.42 157.57,815.26 159.57,806.17 160.36,803.13 162.36,797.64 165.56,790.32 166.36,788.78 166.76,789.89 169.96,805.25 176.35,834.70 180.75,856.21 183.14,869.00 185.14,880.54 190.74,916.32 192.34,924.60 194.33,933.16 196.33,940.28 202.33,959.94 206.72,977.86 208.72,985.30 210.72,991.90 213.12,999.12 218.31,1013.19 225.11,1029.93 229.10,1038.53 231.10,1042.26 233.10,1045.61 235.10,1048.62 237.49,1051.84 239.49,1054.18 241.49,1056.17 243.49,1057.82 245.49,1059.12 247.49,1060.11 249.88,1060.88 251.88,1061.23 257.08,1061.68 259.47,1062.03 261.47,1062.58 265.47,1064.03 267.87,1064.68 272.66,1065.50 281.05,1066.39 284.65,1067.87 286.25,1068.28 287.85,1068.52 291.05,1068.64 299.84,1068.29 302.24,1068.45 307.83,1069.17 312.63,1069.53 329.81,1069.50 338.20,1069.76 341.40,1069.95 341.40,1070.10"/>
<clipPath id="cb3"><polygon points="84.83,1070.10 84.83,1069.59 88.92,1068.98 92.35,1068.31 95.50,1067.50 98.25,1066.59 100.39,1065.70 102.41,1064.64 104.13,1063.52 105.68,1062.23 107.17,1060.68 108.50,1058.99 109.77,1057.02 110.96,1054.78 112.08,1052.28 113.26,1049.21 115.82,1041.33 117.86,1033.69 119.79,1025.00 121.68,1015.07 124.28,999.88 129.16,968.75 137.48,911.61 140.87,889.07 144.80,864.89 147.97,847.36 149.54,840.35 151.24,834.08 152.66,829.68 156.06,820.14 157.40,815.86 158.21,812.68 159.70,805.60 160.70,802.07 162.40,797.54 165.75,789.91 166.70,788.31 167.09,787.94 167.51,787.78 168.01,788.00 168.54,788.67 169.47,790.72 170.83,796.37 172.34,801.55 173.22,805.15 176.08,820.22 180.05,839.11 180.94,844.35 182.45,855.12 183.70,860.98 184.68,864.06 186.01,867.38 191.33,878.36 193.22,882.77 195.23,888.57 197.12,895.50 198.71,902.51 200.34,910.57 205.61,940.29 208.12,953.06 211.75,969.08 215.97,985.32 218.55,994.40 221.07,1002.60 223.56,1010.08 226.15,1017.16 228.90,1023.98 231.76,1030.38 234.64,1036.20 237.18,1040.65 240.31,1045.13 243.63,1048.88 245.41,1050.54 247.29,1052.06 251.29,1054.68 254.77,1056.45 258.57,1057.95 261.82,1058.95 269.59,1061.01 273.32,1062.27 276.14,1063.55 282.05,1066.79 285.17,1068.03 287.30,1068.46 289.83,1068.64 297.86,1068.30 300.63,1068.32 307.87,1069.17 311.08,1069.34 315.17,1069.25 324.27,1068.68 328.38,1068.65 331.45,1068.88 339.11,1069.83 341.33,1069.95 343.40,1069.89 343.40,1070.10"/></clipPath>
<mask id="mcb3" maskUnits="userSpaceOnUse" x="0" y="0" width="715" height="1121"><rect width="715" height="1121" fill="#fff"/><polygon fill="#000" points="84.83,1070.10 84.83,1069.59 88.92,1068.98 92.35,1068.31 95.50,1067.50 98.25,1066.59 100.39,1065.70 102.41,1064.64 104.13,1063.52 105.68,1062.23 107.17,1060.68 108.50,1058.99 109.77,1057.02 110.96,1054.78 112.08,1052.28 113.26,1049.21 115.82,1041.33 117.86,1033.69 119.79,1025.00 121.68,1015.07 124.28,999.88 129.16,968.75 137.48,911.61 140.87,889.07 144.80,864.89 147.97,847.36 149.54,840.35 151.24,834.08 152.66,829.68 156.06,820.14 157.40,815.86 158.21,812.68 159.70,805.60 160.70,802.07 162.40,797.54 165.75,789.91 166.70,788.31 167.09,787.94 167.51,787.78 168.01,788.00 168.54,788.67 169.47,790.72 170.83,796.37 172.34,801.55 173.22,805.15 176.08,820.22 180.05,839.11 180.94,844.35 182.45,855.12 183.70,860.98 184.68,864.06 186.01,867.38 191.33,878.36 193.22,882.77 195.23,888.57 197.12,895.50 198.71,902.51 200.34,910.57 205.61,940.29 208.12,953.06 211.75,969.08 215.97,985.32 218.55,994.40 221.07,1002.60 223.56,1010.08 226.15,1017.16 228.90,1023.98 231.76,1030.38 234.64,1036.20 237.18,1040.65 240.31,1045.13 243.63,1048.88 245.41,1050.54 247.29,1052.06 251.29,1054.68 254.77,1056.45 258.57,1057.95 261.82,1058.95 269.59,1061.01 273.32,1062.27 276.14,1063.55 282.05,1066.79 285.17,1068.03 287.30,1068.46 289.83,1068.64 297.86,1068.30 300.63,1068.32 307.87,1069.17 311.08,1069.34 315.17,1069.25 324.27,1068.68 328.38,1068.65 331.45,1068.88 339.11,1069.83 341.33,1069.95 343.40,1069.89 343.40,1070.10"/></mask>
<polygon fill="none" stroke="#E8302A" stroke-width="1.5" stroke-linejoin="round" mask="url(#mcb3)" points="84.31,1070.10 84.31,1069.76 91.90,1067.81 94.77,1066.81 97.17,1065.76 99.12,1064.71 100.91,1063.48 102.53,1062.07 103.97,1060.50 105.36,1058.64 106.67,1056.47 107.91,1054.01 109.14,1051.09 111.89,1042.97 114.31,1033.90 116.27,1024.77 118.44,1012.71 122.49,988.27 125.49,968.44 127.19,955.69 131.57,920.19 138.13,874.19 140.32,857.99 141.91,844.68 144.04,824.05 145.08,815.30 148.64,792.05 150.33,779.18 150.86,776.29 151.52,773.58 152.33,771.06 153.27,768.73 154.15,767.00 155.07,765.70 155.98,764.93 156.86,764.67 157.93,764.94 159.12,765.89 160.18,767.31 161.38,769.49 162.32,771.65 163.17,774.12 164.94,781.32 169.79,804.48 176.98,837.69 180.75,856.21 183.05,868.48 185.09,880.24 189.33,907.85 190.78,916.54 192.69,926.26 194.77,934.81 196.54,940.98 201.99,958.74 203.50,964.42 207.96,982.59 210.17,990.16 212.80,998.19 217.85,1012.01 224.58,1028.70 228.52,1037.36 230.45,1041.09 232.37,1044.43 234.56,1047.85 236.85,1051.02 238.99,1053.62 241.18,1055.88 243.26,1057.65 245.35,1059.05 247.59,1060.15 249.81,1060.86 252.16,1061.26 259.08,1061.96 261.22,1062.50 265.84,1064.14 268.31,1064.78 272.11,1065.42 278.53,1066.16 283.10,1066.54 286.94,1066.66 290.05,1066.58 295.55,1066.19 298.45,1066.25 301.29,1066.80 308.01,1068.94 309.81,1069.28 311.81,1069.49 330.02,1069.51 341.40,1069.90 341.40,1070.10"/>
<polygon fill="none" stroke="#B8684F" stroke-width="1.35" stroke-linejoin="round" clip-path="url(#cb3)" points="84.31,1070.10 84.31,1069.76 91.90,1067.81 94.77,1066.81 97.17,1065.76 99.12,1064.71 100.91,1063.48 102.53,1062.07 103.97,1060.50 105.36,1058.64 106.67,1056.47 107.91,1054.01 109.14,1051.09 111.89,1042.97 114.31,1033.90 116.27,1024.77 118.44,1012.71 122.49,988.27 125.49,968.44 127.19,955.69 131.57,920.19 138.13,874.19 140.32,857.99 141.91,844.68 144.04,824.05 145.08,815.30 148.64,792.05 150.33,779.18 150.86,776.29 151.52,773.58 152.33,771.06 153.27,768.73 154.15,767.00 155.07,765.70 155.98,764.93 156.86,764.67 157.93,764.94 159.12,765.89 160.18,767.31 161.38,769.49 162.32,771.65 163.17,774.12 164.94,781.32 169.79,804.48 176.98,837.69 180.75,856.21 183.05,868.48 185.09,880.24 189.33,907.85 190.78,916.54 192.69,926.26 194.77,934.81 196.54,940.98 201.99,958.74 203.50,964.42 207.96,982.59 210.17,990.16 212.80,998.19 217.85,1012.01 224.58,1028.70 228.52,1037.36 230.45,1041.09 232.37,1044.43 234.56,1047.85 236.85,1051.02 238.99,1053.62 241.18,1055.88 243.26,1057.65 245.35,1059.05 247.59,1060.15 249.81,1060.86 252.16,1061.26 259.08,1061.96 261.22,1062.50 265.84,1064.14 268.31,1064.78 272.11,1065.42 278.53,1066.16 283.10,1066.54 286.94,1066.66 290.05,1066.58 295.55,1066.19 298.45,1066.25 301.29,1066.80 308.01,1068.94 309.81,1069.28 311.81,1069.49 330.02,1069.51 341.40,1069.90 341.40,1070.10"/>
<polygon fill="none" stroke="#1A9BC8" stroke-width="1.5" stroke-linejoin="round" points="84.83,1070.10 84.83,1069.59 88.92,1068.98 92.35,1068.31 95.50,1067.50 98.25,1066.59 100.39,1065.70 102.41,1064.64 104.13,1063.52 105.68,1062.23 107.17,1060.68 108.50,1058.99 109.77,1057.02 110.96,1054.78 112.08,1052.28 113.26,1049.21 115.82,1041.33 117.86,1033.69 119.79,1025.00 121.68,1015.07 124.28,999.88 129.16,968.75 137.48,911.61 140.87,889.07 144.80,864.89 147.97,847.36 149.54,840.35 151.24,834.08 152.66,829.68 156.06,820.14 157.40,815.86 158.21,812.68 159.70,805.60 160.70,802.07 162.40,797.54 165.75,789.91 166.70,788.31 167.09,787.94 167.51,787.78 168.01,788.00 168.54,788.67 169.47,790.72 170.83,796.37 172.34,801.55 173.22,805.15 176.08,820.22 180.05,839.11 180.94,844.35 182.45,855.12 183.70,860.98 184.68,864.06 186.01,867.38 191.33,878.36 193.22,882.77 195.23,888.57 197.12,895.50 198.71,902.51 200.34,910.57 205.61,940.29 208.12,953.06 211.75,969.08 215.97,985.32 218.55,994.40 221.07,1002.60 223.56,1010.08 226.15,1017.16 228.90,1023.98 231.76,1030.38 234.64,1036.20 237.18,1040.65 240.31,1045.13 243.63,1048.88 245.41,1050.54 247.29,1052.06 251.29,1054.68 254.77,1056.45 258.57,1057.95 261.82,1058.95 269.59,1061.01 273.32,1062.27 276.14,1063.55 282.05,1066.79 285.17,1068.03 287.30,1068.46 289.83,1068.64 297.86,1068.30 300.63,1068.32 307.87,1069.17 311.08,1069.34 315.17,1069.25 324.27,1068.68 328.38,1068.65 331.45,1068.88 339.11,1069.83 341.33,1069.95 343.40,1069.89 343.40,1070.10"/>
<line x1="72.5" y1="765" x2="72.5" y2="1071.4" stroke="#1E1A1B" stroke-width="1.5"/>
<line x1="65" y1="1071.4" x2="355.5" y2="1071.4" stroke="#1E1A1B" stroke-width="1.5"/>
<line x1="65" y1="1071.4" x2="72.5" y2="1071.4" stroke="#1E1A1B" stroke-width="1.5"/>
<line x1="65" y1="1000.4" x2="72.5" y2="1000.4" stroke="#1E1A1B" stroke-width="1.5"/>
<line x1="65" y1="929.4" x2="72.5" y2="929.4" stroke="#1E1A1B" stroke-width="1.5"/>
<line x1="65" y1="858.4" x2="72.5" y2="858.4" stroke="#1E1A1B" stroke-width="1.5"/>
<line x1="65" y1="787.4" x2="72.5" y2="787.4" stroke="#1E1A1B" stroke-width="1.5"/>
<line x1="113.5" y1="1071.4" x2="113.5" y2="1078.9" stroke="#1E1A1B" stroke-width="1.5"/>
<line x1="184.56" y1="1071.4" x2="184.56" y2="1078.9" stroke="#1E1A1B" stroke-width="1.5"/>
<line x1="255.63" y1="1071.4" x2="255.63" y2="1078.9" stroke="#1E1A1B" stroke-width="1.5"/>
<line x1="326.69" y1="1071.4" x2="326.69" y2="1078.9" stroke="#1E1A1B" stroke-width="1.5"/>
<text transform="translate(52.77,1076.28) scale(1.0400,1)" font-size="14.000" fill="#231F20">0</text>
<text transform="translate(26.29,1005.28) scale(0.9650,1)" font-size="14.000" fill="#231F20">0</text>
<text transform="translate(33.8,1005.28) scale(0.9650,1)" font-size="14.000" fill="#231F20">·</text>
<text transform="translate(38.3,1005.28) scale(0.9650,1)" font-size="14.000" fill="#231F20">0</text>
<text transform="translate(45.82,1005.28) scale(0.9650,1)" font-size="14.000" fill="#231F20">0</text>
<text transform="translate(53.33,995.52) scale(0.9650,1.1536)" y="9.76" font-size="14.000" fill="#231F20">5</text>
<text transform="translate(26.25,934.28) scale(0.9650,1)" font-size="14.000" fill="#231F20">0·010</text>
<text transform="translate(26.29,863.28) scale(0.9650,1)" font-size="14.000" fill="#231F20">0</text>
<text transform="translate(33.8,863.28) scale(0.9650,1)" font-size="14.000" fill="#231F20">·</text>
<text transform="translate(38.3,863.28) scale(0.9650,1)" font-size="14.000" fill="#231F20">0</text>
<text transform="translate(45.82,863.28) scale(0.9650,1)" font-size="14.000" fill="#231F20">1</text>
<text transform="translate(53.33,853.52) scale(0.9650,1.1536)" y="9.76" font-size="14.000" fill="#231F20">5</text>
<text transform="translate(26.25,792.28) scale(0.9650,1)" font-size="14.000" fill="#231F20">0·020</text>
<text transform="translate(105.4,1083.4) scale(1.0400,1.1536)" y="9.77" font-size="14.000" fill="#231F20">5</text>
<text transform="translate(113.5,1093.17) scale(1.0400,1)" font-size="14.000" fill="#231F20">0</text>
<text transform="translate(172.15,1093.17) scale(1.0400,1)" font-size="14.000" fill="#231F20">100</text>
<text transform="translate(243.22,1093.17) scale(1.0400,1)" font-size="14.000" fill="#231F20">1</text>
<text transform="translate(251.32,1083.4) scale(1.0400,1.1536)" y="9.77" font-size="14.000" fill="#231F20">5</text>
<text transform="translate(259.41,1093.17) scale(1.0400,1)" font-size="14.000" fill="#231F20">0</text>
<text transform="translate(314.46,1093.17) scale(1.0400,1)" font-size="14.000" fill="#231F20">200</text>
<text transform="translate(165.36,1117.3) scale(0.9225,1)" font-size="15.034" fill="#231F20">Heart rate (per min)</text>
<text transform="translate(10.4,979.05) rotate(-90) scale(1.0777,1)" font-size="12.966" fill="#231F20">Probability density</text>
<polygon fill="#FAC0A6" points="442.00,1069.50 470.83,1069.49 475.14,1068.66 479.10,1067.49 482.50,1066.11 485.79,1064.42 488.87,1062.42 491.58,1060.24 493.89,1057.93 495.89,1055.41 497.69,1052.55 499.39,1049.22 500.96,1045.44 502.54,1040.90 507.07,1026.55 509.23,1019.17 510.78,1013.15 512.28,1006.60 515.25,991.29 520.22,962.12 522.34,948.17 523.70,937.12 526.32,912.33 528.05,897.45 530.46,878.67 533.47,857.05 536.44,837.40 537.68,830.96 539.04,825.15 540.58,819.80 542.21,815.10 543.37,812.76 544.62,811.30 545.97,810.55 547.65,810.31 549.68,810.51 553.46,811.28 554.34,811.31 555.05,811.18 555.86,810.82 556.64,810.27 559.46,807.55 560.67,806.57 561.80,805.99 562.83,805.83 563.71,805.98 564.54,806.37 565.40,807.07 566.10,807.94 567.06,810.01 568.09,813.74 569.73,821.39 572.34,836.74 573.66,843.47 575.43,850.96 579.88,868.33 581.73,876.51 586.34,901.18 591.54,925.57 594.84,943.22 596.26,949.95 598.02,956.91 602.21,971.83 603.91,978.33 605.54,985.41 609.28,1002.92 611.59,1012.20 613.18,1017.53 614.83,1022.30 616.66,1026.82 618.61,1030.92 621.23,1035.61 624.15,1039.99 627.36,1044.00 630.92,1047.72 633.39,1049.93 635.99,1051.95 645.53,1058.26 647.95,1060.22 653.48,1065.04 655.21,1066.30 656.75,1067.19 658.07,1067.75 659.60,1068.20 663.34,1068.69 671.58,1068.90 679.44,1069.50 697.10,1069.50"/>
<polygon fill="#A9DAEB" points="442.00,1069.50 474.99,1069.50 476.92,1069.03 479.14,1068.27 483.16,1066.50 489.05,1063.60 491.89,1061.84 494.31,1059.87 496.80,1057.20 499.14,1053.91 501.19,1050.18 503.00,1045.93 504.20,1042.44 505.32,1038.55 508.61,1025.09 513.15,1007.99 514.82,1000.44 516.35,991.74 521.83,955.99 523.12,946.87 524.40,936.08 527.75,904.92 531.13,878.39 534.84,852.46 541.88,806.03 542.86,798.70 543.97,789.06 544.60,785.05 545.34,781.86 546.28,778.95 547.51,776.16 549.19,773.12 551.63,769.47 553.81,766.67 554.61,765.89 555.46,765.29 556.20,764.97 556.94,764.86 557.53,764.95 558.25,765.25 559.50,766.23 561.00,768.06 562.43,770.41 563.54,772.75 564.55,775.46 565.46,778.59 566.21,781.98 567.42,789.82 571.27,822.46 573.47,838.71 583.21,900.83 586.40,920.49 589.62,938.79 598.46,986.41 599.48,990.92 600.57,994.82 601.81,998.44 603.16,1001.61 605.13,1005.31 609.46,1011.95 611.29,1015.14 612.98,1018.60 617.60,1029.05 620.51,1035.23 623.56,1041.12 626.55,1046.22 630.07,1051.42 633.55,1055.72 637.30,1059.50 641.20,1062.60 644.51,1064.66 647.86,1066.26 651.17,1067.37 654.59,1068.02 657.53,1068.17 663.66,1067.97 666.43,1068.03 678.69,1069.50 700.80,1069.50"/>
<polygon fill="#AEB4AF" points="442.00,1069.50 474.79,1069.50 475.99,1069.28 477.99,1068.69 481.59,1067.23 487.99,1064.17 490.78,1062.58 493.18,1060.85 495.58,1058.60 497.58,1056.20 499.58,1053.18 501.58,1049.34 503.58,1044.32 505.58,1037.58 508.38,1025.99 513.57,1006.20 514.77,1000.65 515.97,994.04 522.77,949.46 524.37,936.39 527.57,906.46 529.97,887.05 534.37,855.67 538.76,826.55 539.16,824.70 540.76,819.22 542.36,814.72 543.56,812.47 544.76,811.19 545.96,810.55 547.56,810.31 549.56,810.49 553.56,811.29 554.36,811.31 555.16,811.14 555.96,810.76 556.76,810.17 559.56,807.46 560.76,806.51 561.96,805.95 562.75,805.83 563.95,806.07 564.75,806.51 565.55,807.23 566.35,808.36 567.15,810.29 567.55,811.67 569.15,818.46 572.75,838.99 575.15,849.85 584.35,907.97 587.54,927.17 597.94,983.79 599.14,989.51 600.74,995.37 602.34,999.75 603.94,1003.18 605.54,1005.97 609.54,1012.07 611.14,1014.85 613.13,1018.94 617.53,1028.90 620.73,1035.68 623.53,1041.06 626.73,1046.51 629.93,1051.23 633.53,1055.70 637.12,1059.34 641.12,1062.54 644.32,1064.56 647.52,1066.12 651.12,1067.36 654.32,1067.99 656.32,1068.15 659.12,1068.14 661.51,1068.53 663.51,1068.70 673.11,1068.99 678.71,1069.50 697.10,1069.50"/>
<clipPath id="cb4"><polygon points="442.00,1069.50 474.99,1069.50 476.92,1069.03 479.14,1068.27 483.16,1066.50 489.05,1063.60 491.89,1061.84 494.31,1059.87 496.80,1057.20 499.14,1053.91 501.19,1050.18 503.00,1045.93 504.20,1042.44 505.32,1038.55 508.61,1025.09 513.15,1007.99 514.82,1000.44 516.35,991.74 521.83,955.99 523.12,946.87 524.40,936.08 527.75,904.92 531.13,878.39 534.84,852.46 541.88,806.03 542.86,798.70 543.97,789.06 544.60,785.05 545.34,781.86 546.28,778.95 547.51,776.16 549.19,773.12 551.63,769.47 553.81,766.67 554.61,765.89 555.46,765.29 556.20,764.97 556.94,764.86 557.53,764.95 558.25,765.25 559.50,766.23 561.00,768.06 562.43,770.41 563.54,772.75 564.55,775.46 565.46,778.59 566.21,781.98 567.42,789.82 571.27,822.46 573.47,838.71 583.21,900.83 586.40,920.49 589.62,938.79 598.46,986.41 599.48,990.92 600.57,994.82 601.81,998.44 603.16,1001.61 605.13,1005.31 609.46,1011.95 611.29,1015.14 612.98,1018.60 617.60,1029.05 620.51,1035.23 623.56,1041.12 626.55,1046.22 630.07,1051.42 633.55,1055.72 637.30,1059.50 641.20,1062.60 644.51,1064.66 647.86,1066.26 651.17,1067.37 654.59,1068.02 657.53,1068.17 663.66,1067.97 666.43,1068.03 678.69,1069.50 700.80,1069.50"/></clipPath>
<mask id="mcb4" maskUnits="userSpaceOnUse" x="0" y="0" width="715" height="1121"><rect width="715" height="1121" fill="#fff"/><polygon fill="#000" points="442.00,1069.50 474.99,1069.50 476.92,1069.03 479.14,1068.27 483.16,1066.50 489.05,1063.60 491.89,1061.84 494.31,1059.87 496.80,1057.20 499.14,1053.91 501.19,1050.18 503.00,1045.93 504.20,1042.44 505.32,1038.55 508.61,1025.09 513.15,1007.99 514.82,1000.44 516.35,991.74 521.83,955.99 523.12,946.87 524.40,936.08 527.75,904.92 531.13,878.39 534.84,852.46 541.88,806.03 542.86,798.70 543.97,789.06 544.60,785.05 545.34,781.86 546.28,778.95 547.51,776.16 549.19,773.12 551.63,769.47 553.81,766.67 554.61,765.89 555.46,765.29 556.20,764.97 556.94,764.86 557.53,764.95 558.25,765.25 559.50,766.23 561.00,768.06 562.43,770.41 563.54,772.75 564.55,775.46 565.46,778.59 566.21,781.98 567.42,789.82 571.27,822.46 573.47,838.71 583.21,900.83 586.40,920.49 589.62,938.79 598.46,986.41 599.48,990.92 600.57,994.82 601.81,998.44 603.16,1001.61 605.13,1005.31 609.46,1011.95 611.29,1015.14 612.98,1018.60 617.60,1029.05 620.51,1035.23 623.56,1041.12 626.55,1046.22 630.07,1051.42 633.55,1055.72 637.30,1059.50 641.20,1062.60 644.51,1064.66 647.86,1066.26 651.17,1067.37 654.59,1068.02 657.53,1068.17 663.66,1067.97 666.43,1068.03 678.69,1069.50 700.80,1069.50"/></mask>
<polygon fill="none" stroke="#E8302A" stroke-width="1.5" stroke-linejoin="round" mask="url(#mcb4)" points="442.00,1069.50 470.83,1069.49 475.14,1068.66 479.10,1067.49 482.50,1066.11 485.79,1064.42 488.87,1062.42 491.58,1060.24 493.89,1057.93 495.89,1055.41 497.69,1052.55 499.39,1049.22 500.96,1045.44 502.54,1040.90 507.07,1026.55 509.23,1019.17 510.78,1013.15 512.28,1006.60 515.25,991.29 520.22,962.12 522.34,948.17 523.70,937.12 526.32,912.33 528.05,897.45 530.46,878.67 533.47,857.05 536.44,837.40 537.68,830.96 539.04,825.15 540.58,819.80 542.21,815.10 543.37,812.76 544.62,811.30 545.97,810.55 547.65,810.31 549.68,810.51 553.46,811.28 554.34,811.31 555.05,811.18 555.86,810.82 556.64,810.27 559.46,807.55 560.67,806.57 561.80,805.99 562.83,805.83 563.71,805.98 564.54,806.37 565.40,807.07 566.10,807.94 567.06,810.01 568.09,813.74 569.73,821.39 572.34,836.74 573.66,843.47 575.43,850.96 579.88,868.33 581.73,876.51 586.34,901.18 591.54,925.57 594.84,943.22 596.26,949.95 598.02,956.91 602.21,971.83 603.91,978.33 605.54,985.41 609.28,1002.92 611.59,1012.20 613.18,1017.53 614.83,1022.30 616.66,1026.82 618.61,1030.92 621.23,1035.61 624.15,1039.99 627.36,1044.00 630.92,1047.72 633.39,1049.93 635.99,1051.95 645.53,1058.26 647.95,1060.22 653.48,1065.04 655.21,1066.30 656.75,1067.19 658.07,1067.75 659.60,1068.20 663.34,1068.69 671.58,1068.90 679.44,1069.50 697.10,1069.50"/>
<polygon fill="none" stroke="#B8684F" stroke-width="1.35" stroke-linejoin="round" clip-path="url(#cb4)" points="442.00,1069.50 470.83,1069.49 475.14,1068.66 479.10,1067.49 482.50,1066.11 485.79,1064.42 488.87,1062.42 491.58,1060.24 493.89,1057.93 495.89,1055.41 497.69,1052.55 499.39,1049.22 500.96,1045.44 502.54,1040.90 507.07,1026.55 509.23,1019.17 510.78,1013.15 512.28,1006.60 515.25,991.29 520.22,962.12 522.34,948.17 523.70,937.12 526.32,912.33 528.05,897.45 530.46,878.67 533.47,857.05 536.44,837.40 537.68,830.96 539.04,825.15 540.58,819.80 542.21,815.10 543.37,812.76 544.62,811.30 545.97,810.55 547.65,810.31 549.68,810.51 553.46,811.28 554.34,811.31 555.05,811.18 555.86,810.82 556.64,810.27 559.46,807.55 560.67,806.57 561.80,805.99 562.83,805.83 563.71,805.98 564.54,806.37 565.40,807.07 566.10,807.94 567.06,810.01 568.09,813.74 569.73,821.39 572.34,836.74 573.66,843.47 575.43,850.96 579.88,868.33 581.73,876.51 586.34,901.18 591.54,925.57 594.84,943.22 596.26,949.95 598.02,956.91 602.21,971.83 603.91,978.33 605.54,985.41 609.28,1002.92 611.59,1012.20 613.18,1017.53 614.83,1022.30 616.66,1026.82 618.61,1030.92 621.23,1035.61 624.15,1039.99 627.36,1044.00 630.92,1047.72 633.39,1049.93 635.99,1051.95 645.53,1058.26 647.95,1060.22 653.48,1065.04 655.21,1066.30 656.75,1067.19 658.07,1067.75 659.60,1068.20 663.34,1068.69 671.58,1068.90 679.44,1069.50 697.10,1069.50"/>
<polygon fill="none" stroke="#1A9BC8" stroke-width="1.5" stroke-linejoin="round" points="442.00,1069.50 474.99,1069.50 476.92,1069.03 479.14,1068.27 483.16,1066.50 489.05,1063.60 491.89,1061.84 494.31,1059.87 496.80,1057.20 499.14,1053.91 501.19,1050.18 503.00,1045.93 504.20,1042.44 505.32,1038.55 508.61,1025.09 513.15,1007.99 514.82,1000.44 516.35,991.74 521.83,955.99 523.12,946.87 524.40,936.08 527.75,904.92 531.13,878.39 534.84,852.46 541.88,806.03 542.86,798.70 543.97,789.06 544.60,785.05 545.34,781.86 546.28,778.95 547.51,776.16 549.19,773.12 551.63,769.47 553.81,766.67 554.61,765.89 555.46,765.29 556.20,764.97 556.94,764.86 557.53,764.95 558.25,765.25 559.50,766.23 561.00,768.06 562.43,770.41 563.54,772.75 564.55,775.46 565.46,778.59 566.21,781.98 567.42,789.82 571.27,822.46 573.47,838.71 583.21,900.83 586.40,920.49 589.62,938.79 598.46,986.41 599.48,990.92 600.57,994.82 601.81,998.44 603.16,1001.61 605.13,1005.31 609.46,1011.95 611.29,1015.14 612.98,1018.60 617.60,1029.05 620.51,1035.23 623.56,1041.12 626.55,1046.22 630.07,1051.42 633.55,1055.72 637.30,1059.50 641.20,1062.60 644.51,1064.66 647.86,1066.26 651.17,1067.37 654.59,1068.02 657.53,1068.17 663.66,1067.97 666.43,1068.03 678.69,1069.50 700.80,1069.50"/>
<line x1="430.2" y1="765" x2="430.2" y2="1070.8" stroke="#1E1A1B" stroke-width="1.5"/>
<line x1="423" y1="1070.8" x2="715" y2="1070.8" stroke="#1E1A1B" stroke-width="1.5"/>
<line x1="422.7" y1="1070.8" x2="430.2" y2="1070.8" stroke="#1E1A1B" stroke-width="1.5"/>
<line x1="422.7" y1="996.8" x2="430.2" y2="996.8" stroke="#1E1A1B" stroke-width="1.5"/>
<line x1="422.7" y1="922.8" x2="430.2" y2="922.8" stroke="#1E1A1B" stroke-width="1.5"/>
<line x1="422.7" y1="848.8" x2="430.2" y2="848.8" stroke="#1E1A1B" stroke-width="1.5"/>
<line x1="422.7" y1="774.8" x2="430.2" y2="774.8" stroke="#1E1A1B" stroke-width="1.5"/>
<line x1="523.5" y1="1070.8" x2="523.5" y2="1078.3" stroke="#1E1A1B" stroke-width="1.5"/>
<line x1="633" y1="1070.8" x2="633" y2="1078.3" stroke="#1E1A1B" stroke-width="1.5"/>
<text transform="translate(411.07,1075.68) scale(1.0400,1)" font-size="14.000" fill="#231F20">0</text>
<text transform="translate(384.42,1001.68) scale(0.9650,1)" font-size="14.000" fill="#231F20">0</text>
<text transform="translate(391.93,1001.68) scale(0.9650,1)" font-size="14.000" fill="#231F20">·</text>
<text transform="translate(396.43,1001.68) scale(0.9650,1)" font-size="14.000" fill="#231F20">0</text>
<text transform="translate(403.95,1001.68) scale(0.9650,1)" font-size="14.000" fill="#231F20">0</text>
<text transform="translate(411.46,991.92) scale(0.9650,1.1536)" y="9.76" font-size="14.000" fill="#231F20">4</text>
<text transform="translate(384.62,927.68) scale(0.9650,1)" font-size="14.000" fill="#231F20">0·008</text>
<text transform="translate(384.72,853.68) scale(0.9650,1)" font-size="14.000" fill="#231F20">0·012</text>
<text transform="translate(384.62,779.68) scale(0.9650,1)" font-size="14.000" fill="#231F20">0·016</text>
<text transform="translate(511.09,1093.17) scale(1.0400,1)" font-size="14.000" fill="#231F20">100</text>
<text transform="translate(620.77,1093.17) scale(1.0400,1)" font-size="14.000" fill="#231F20">200</text>
<text transform="translate(481.39,1117) scale(0.9264,1)" font-size="14.621" fill="#231F20">Systolic blood pressure (mm Hg)</text>
</svg>
</body></html>
